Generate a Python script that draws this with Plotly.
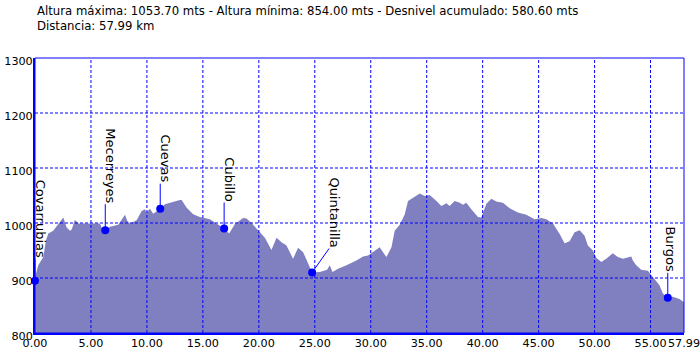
import plotly.graph_objects as go

# ---------------- data ----------------
dist_km = [0.00, 0.09, 0.29, 0.74, 0.98, 1.19, 1.63, 2.08, 2.53, 2.68, 2.83, 3.13, 3.28, 3.57, 3.87,
           4.29, 5.80, 5.96, 6.28, 6.70, 7.44, 8.04, 8.24, 8.48, 9.08, 9.53, 9.82, 9.97, 10.27, 10.56,
           11.19, 11.61, 12.35, 12.95, 13.10, 13.54, 14.13, 14.73, 15.63, 16.22, 16.90, 17.35, 17.86,
           18.60, 18.90, 19.35, 19.94, 20.54, 21.13, 21.58, 22.03, 22.47, 23.06, 23.51, 23.96, 24.26,
           24.55, 24.76, 25.45, 26.10, 26.34, 26.58, 27.08, 27.83, 28.72, 29.31, 29.76, 30.21, 30.80,
           31.10, 31.40, 31.85, 32.14, 32.59, 33.04, 33.33, 33.78, 34.38, 34.82, 35.27, 35.87, 36.31,
           36.76, 37.05, 37.50, 37.95, 38.24, 38.54, 38.99, 39.58, 39.88, 40.33, 40.78, 41.22, 41.81,
           42.41, 43.15, 43.90, 44.64, 45.24, 45.69, 46.28, 46.88, 47.32, 47.77, 48.21, 48.66, 49.11,
           49.40, 49.85, 50.15, 50.60, 51.04, 51.63, 52.08, 52.53, 53.28, 53.42, 53.72, 54.17, 54.76,
           55.06, 55.51, 55.80, 56.10, 56.54, 56.99, 57.59, 57.99]
elev_m = [897, 908, 923, 938, 968, 981, 986, 999, 1010, 1001, 992, 986, 988, 1006, 999,
          999, 999, 992, 987, 993, 997, 1015, 1004, 999, 1005, 1022, 1025, 1019, 1026, 1017,
          1026, 1034, 1039, 1042, 1042, 1028, 1016, 1011, 1007, 999, 990, 981, 998,
          1009, 1008, 1000, 986, 973, 951, 973, 965, 959, 935, 955, 947, 932,
          917, 910, 911, 915, 923, 911, 917, 923, 932, 939, 941, 947, 956,
          947, 938, 956, 986, 997, 1016, 1040, 1046, 1053.7, 1049, 1051, 1040, 1031,
          1036, 1031, 1040, 1037, 1033, 1037, 1025, 1011, 1010, 1035, 1044, 1039, 1037,
          1027, 1019, 1015, 1007, 1009, 1007, 999, 980, 963, 967, 983, 987, 977,
          959, 950, 937, 929, 935, 945, 938, 935, 939, 932, 923, 915, 913,
          905, 895, 887, 872, 864, 866, 862, 856]

place_names = ["Covarrubias", "Mecerreyes", "Cuevas", "Cubillo", "Quintanilla", "Burgos"]
place_km = [0.00, 6.28, 11.19, 16.90, 24.76, 56.54]
place_elev = [895, 987, 1026, 990, 910, 864]

x_ticks = [0, 5, 10, 15, 20, 25, 30, 35, 40, 45, 50, 55, 57.99]
y_ticks = [800, 900, 1000, 1100, 1200, 1300]

header_1 = "Altura máxima: 1053.70 mts - Altura mínima: 854.00 mts - Desnivel acumulado: 580.60 mts"
header_2 = "Distancia: 57.99 km"

# ---------------- style ----------------
BLUE = "#0000FF"
FILL = "rgb(128,128,192)"
FONT = "DejaVu Sans"
# label pixel offsets (text shift x, text shift y / line end)
label_dx = [5, 5, 5, 5, 22, 3]
label_dy = [22, 26, 25, 26, 24, 25]
line_dx = [0, 0, 0, 0, 17, 0]

fig = go.Figure()
fig.add_trace(go.Scatter(x=dist_km, y=elev_m, mode="lines", fill="tozeroy",
                         fillcolor=FILL, line=dict(width=0, color=FILL),
                         hoverinfo="skip", showlegend=False))

shapes = []
# dashed grid above the fill
for xv in x_ticks:
    if 0 < xv < 57.99:
        shapes.append(dict(type="line", xref="x", yref="paper", x0=xv, x1=xv, y0=0, y1=1,
                           line=dict(color=BLUE, width=1, dash="3px,2px"), layer="above"))
for yv in y_ticks:
    if 800 < yv < 1300:
        shapes.append(dict(type="line", xref="paper", yref="y", x0=0, x1=1, y0=yv, y1=yv,
                           line=dict(color=BLUE, width=1, dash="3px,2px"), layer="above"))
# frame
shapes.append(dict(type="rect", xref="paper", yref="paper", x0=0, x1=1, y0=0, y1=1,
                   line=dict(color=BLUE, width=1), layer="above"))
# leader lines
for name, xv, yv, ddx, ddy in zip(place_names, place_km, place_elev, line_dx, label_dy):
    shapes.append(dict(type="line", xref="x", yref="y", xsizemode="pixel", ysizemode="pixel",
                       xanchor=xv, yanchor=yv, x0=0, x1=ddx, y0=0, y1=ddy,
                       line=dict(color=BLUE, width=1), layer="above"))

fig.add_trace(go.Scatter(x=place_km, y=place_elev, mode="markers",
                         marker=dict(color=BLUE, size=8, line=dict(width=0)),
                         cliponaxis=False, hoverinfo="skip", showlegend=False))

annotations = []
for name, xv, yv, dx, dy in zip(place_names, place_km, place_elev, label_dx, label_dy):
    annotations.append(dict(x=xv, y=yv, xref="x", yref="y", text=name, textangle=90,
                            showarrow=False, xanchor="center", yanchor="bottom",
                            xshift=dx, yshift=dy, borderpad=0,
                            font=dict(family=FONT, size=13, color="black")))
annotations.append(dict(x=0, y=1, xref="paper", yref="paper", text=header_1, showarrow=False,
                        xanchor="left", yanchor="middle", yshift=47,
                        font=dict(family=FONT, size=11.7, color="black")))
annotations.append(dict(x=0, y=1, xref="paper", yref="paper", text=header_2, showarrow=False,
                        xanchor="left", yanchor="middle", yshift=32,
                        font=dict(family=FONT, size=11.7, color="black")))

fig.update_layout(
    width=700, height=350,
    margin=dict(l=35, r=16, t=58, b=17),
    paper_bgcolor="white", plot_bgcolor="white",
    shapes=shapes, annotations=annotations,
    font=dict(family=FONT, size=11, color="black"),
    xaxis=dict(range=[0, 57.99], tickvals=x_ticks, ticktext=["%.2f" % v for v in x_ticks],
               showgrid=False, zeroline=False, showline=True, linecolor=BLUE, linewidth=2,
               ticks="", layer="above traces", fixedrange=True, tickangle=0, automargin=False,
               ticklabeloverflow="allow", ticklabelstandoff=-1,
               tickfont=dict(family=FONT, size=11.2, color="black")),
    yaxis=dict(range=[800, 1300], tickvals=y_ticks, ticktext=[str(v) for v in y_ticks],
               showgrid=False, zeroline=False, showline=True, linecolor=BLUE, linewidth=2,
               ticks="", layer="above traces", fixedrange=True, ticklabelstandoff=-2,
               ticklabelshift=3, automargin=False,
               tickfont=dict(family=FONT, size=11.2, color="black")),
)

fig.write_html("out.html")
